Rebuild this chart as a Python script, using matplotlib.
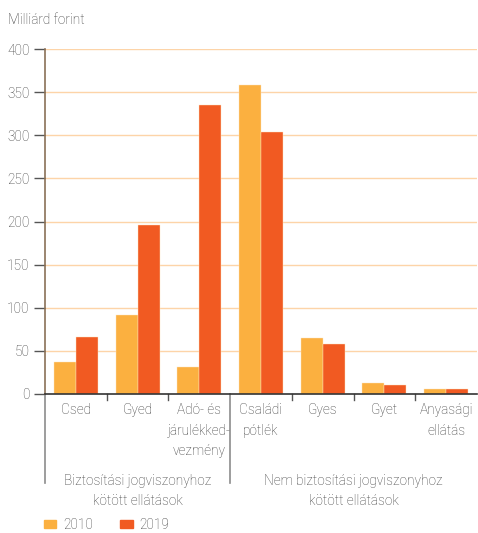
import matplotlib
matplotlib.use("Agg")
import matplotlib.pyplot as plt
from matplotlib.patches import Patch
import numpy as np

categories = ["Csed", "Gyed", "Adó- és\njárulékked-\nvezmény", "Családi\npótlék", "Gyes", "Gyet", "Anyasági\nellátás"]
groups = ["Biztosítási jogviszonyhoz\nkötött ellátások", "Nem biztosítási jogviszonyhoz\nkötött ellátások"]
group_sizes = [3, 4]
series_names = ["2010", "2019"]
values_2010 = [36.5, 91.5, 31, 358.5, 64.5, 12.8, 5]
values_2019 = [66, 196, 335, 304.5, 58, 10, 5]
yticks = [0, 50, 100, 150, 200, 250, 300, 350, 400]

c2010 = "#FBB040"
c2019 = "#F15A22"
grid_c = "#FDD4A8"
text_c = "#3c3c3c"
font = "Roboto"
fs = 9.8
fw = "light"

plt.rcParams['font.family'] = [font, 'DejaVu Sans']
plt.rcParams['font.weight'] = fw

fig = plt.figure(figsize=(4.78, 5.33), dpi=100)
ax = fig.add_axes([45/478, (533-393.7)/533, (477-45)/478, (393.7-49.3)/533])

n = len(categories)
x = np.arange(n) + 0.5
w = 0.357
ax.bar(x - w/2, values_2010, w, color=c2010, zorder=3, edgecolor="#fde3c0", linewidth=0.3)
ax.bar(x + w/2, values_2019, w, color=c2019, zorder=3, edgecolor="#fde3c0", linewidth=0.3)

ax.set_xlim(0, n)
ax.set_ylim(0, 400)
ax.set_yticks(yticks)
ax.set_yticklabels([str(v) for v in yticks], fontsize=fs, color=text_c)
for v in yticks[1:]:
    ax.axhline(v, color=grid_c, lw=1.0, zorder=1)

for s in ["top", "right"]:
    ax.spines[s].set_visible(False)
ax.spines["left"].set_color("#8a7158")
ax.spines["left"].set_linewidth(1.2)
ax.spines["bottom"].set_color("#333333")
ax.spines["bottom"].set_linewidth(1.2)
ax.spines["bottom"].set_zorder(4)
ax.tick_params(axis="y", length=8, width=1.0, color="#555555", pad=3)
ax.set_xticks([])

# category separators
trans = ax.get_xaxis_transform()
bounds = np.cumsum(group_sizes)
for b in range(1, n):
    if b in bounds:
        continue
    ax.plot([b, b], [0, -0.019], transform=trans, color="#555555", lw=1.0, clip_on=False)
# group separators and left extension
for b in [0] + list(bounds[:-1]):
    ax.plot([b, b], [0, -0.26], transform=trans, color="#8c8c8c", lw=1.2, clip_on=False)

# category labels
for xi, lab in zip(x, categories):
    ax.text(xi, -0.027, lab, transform=trans, ha="center", va="top", fontsize=fs,
            color=text_c, linespacing=1.6)

# group labels
start = 0
for g, size in zip(groups, group_sizes):
    ax.text(start + size/2, -0.232, g, transform=trans, ha="center", va="top", fontsize=fs,
            color=text_c, linespacing=1.6)
    start += size

fig.text(8/478, 1 - 20/533, "Milliárd forint", fontsize=fs, color=text_c, va="center", ha="left")

handles = [Patch(color=c2010, label=series_names[0]), Patch(color=c2019, label=series_names[1])]
leg = fig.legend(handles=handles, loc="center left", bbox_to_anchor=(32/478, 1 - 525/533),
                 ncol=2, frameon=False, fontsize=fs, handlelength=0.9, handleheight=0.45,
                 handletextpad=0.5, columnspacing=2.0, labelcolor=text_c)

fig.savefig("out.png", dpi=100)
